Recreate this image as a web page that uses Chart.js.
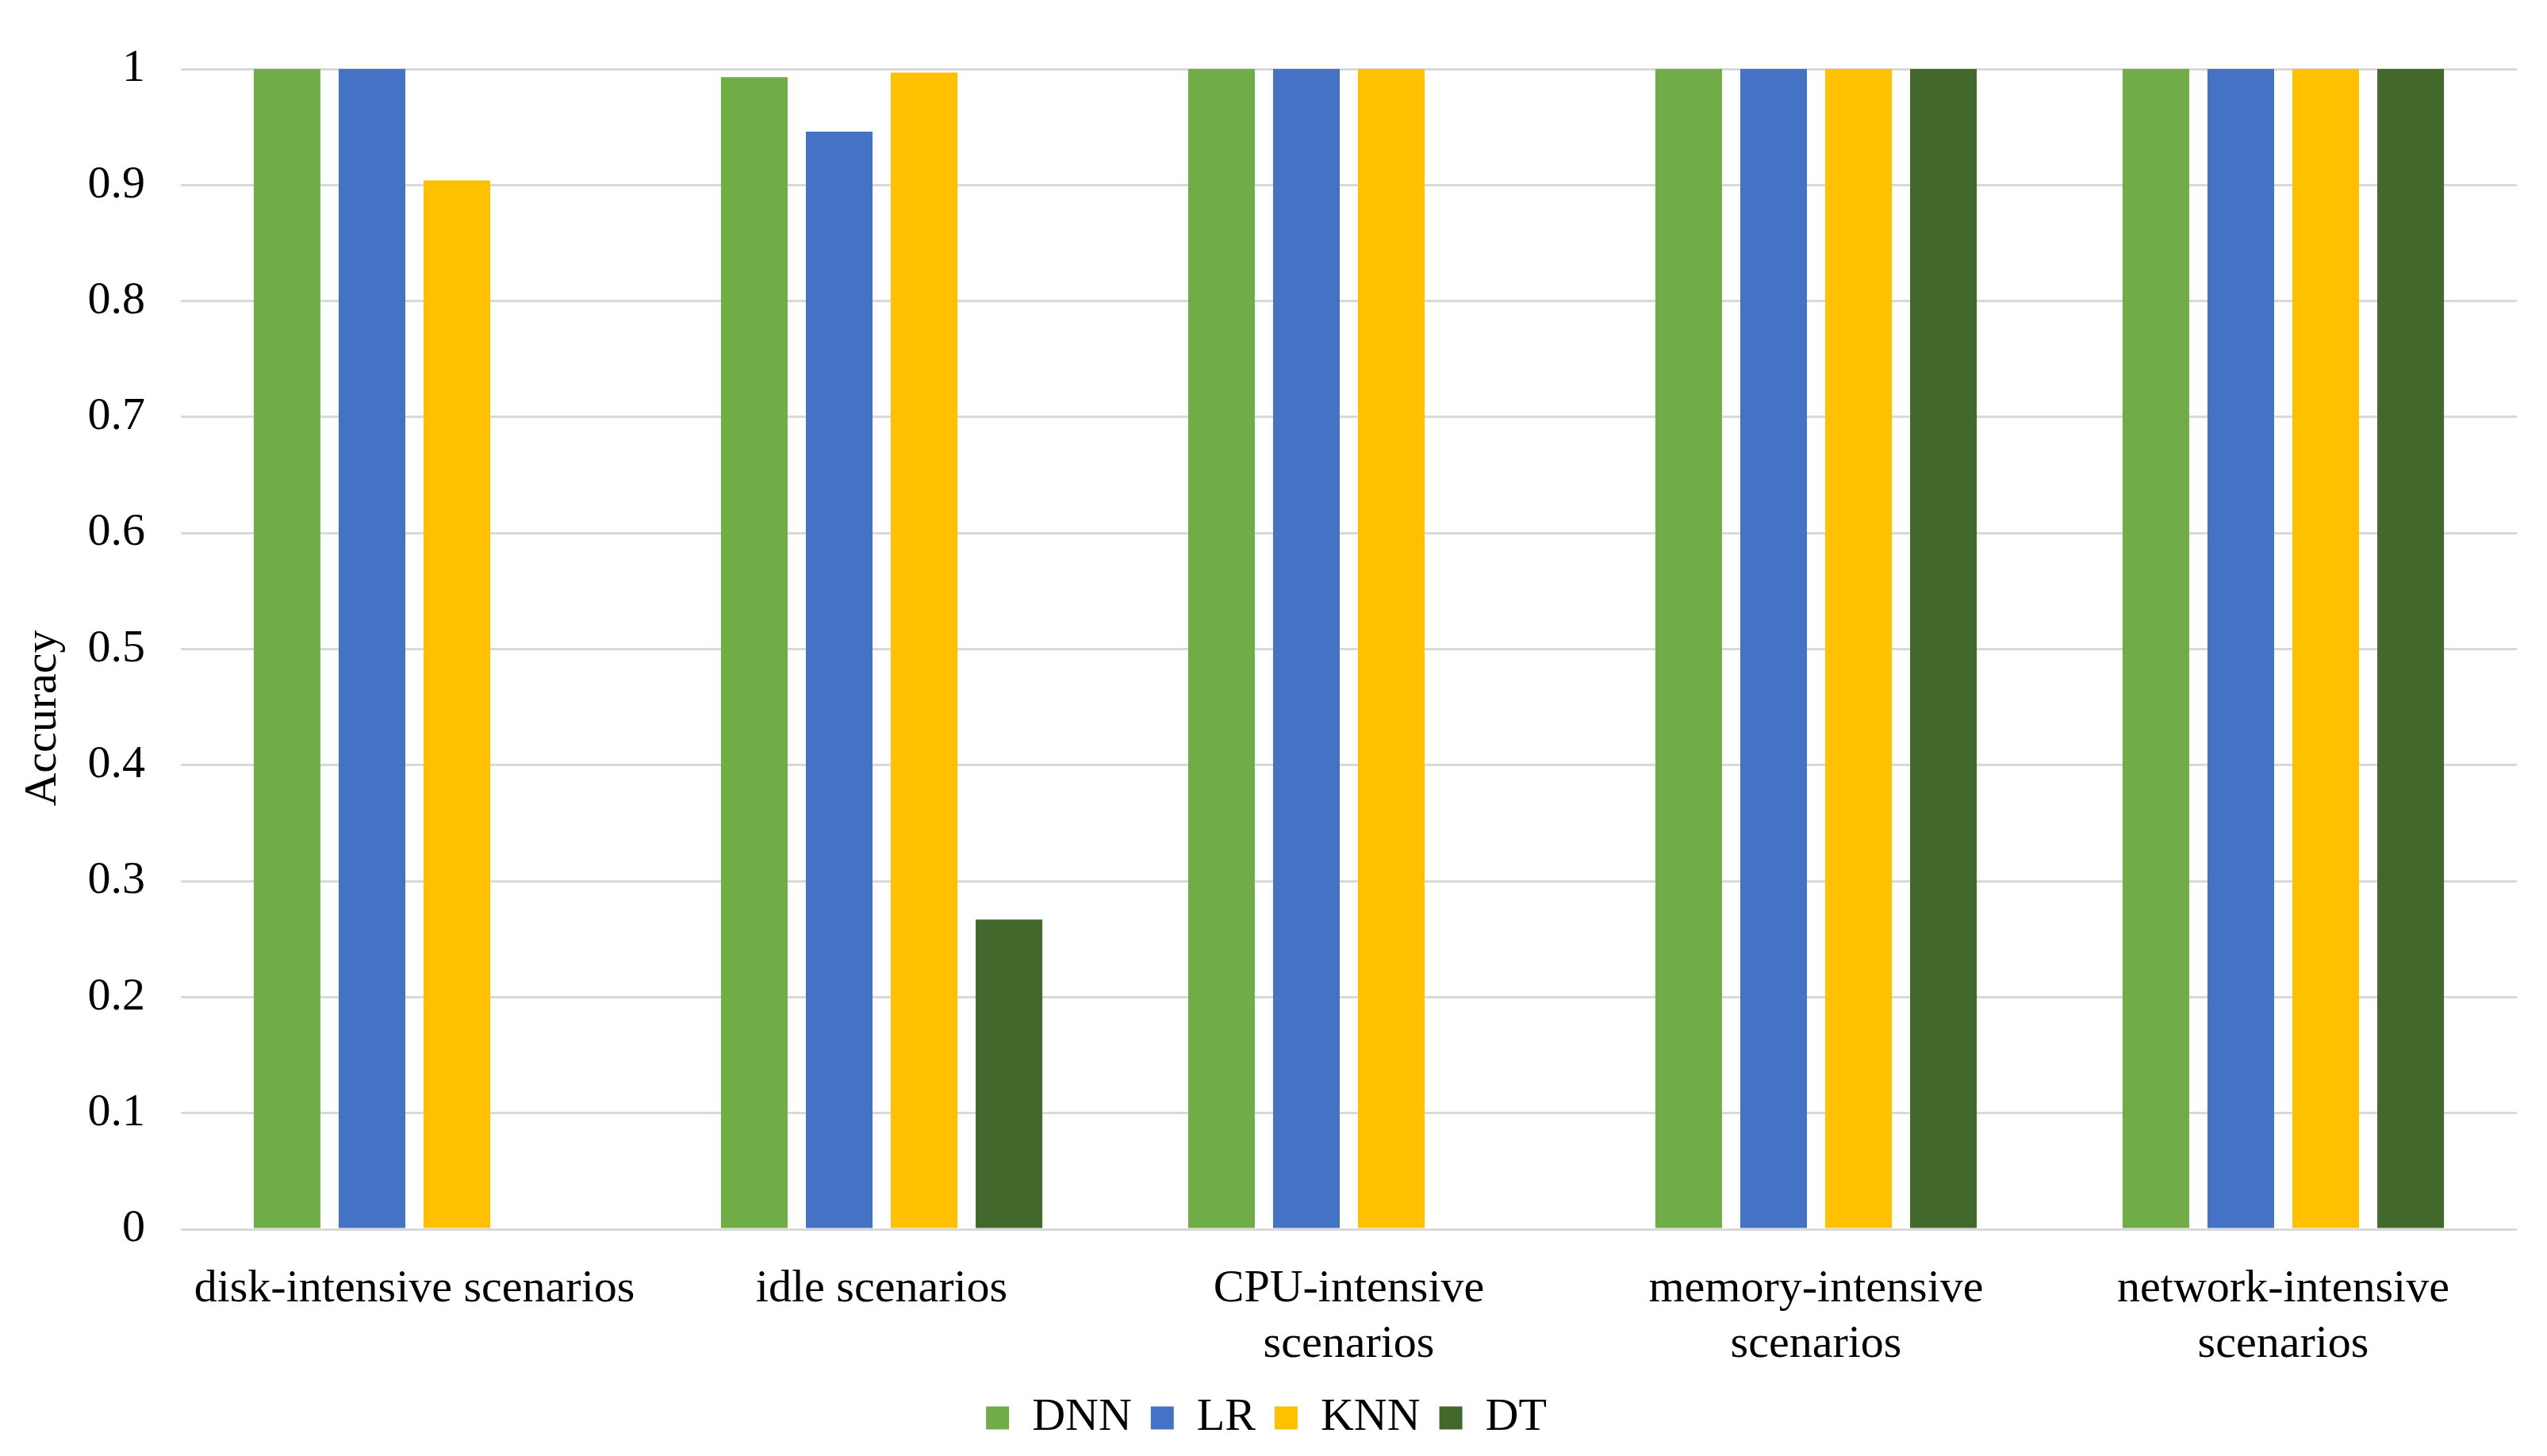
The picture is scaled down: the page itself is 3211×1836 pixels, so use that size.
<!DOCTYPE html>
<html>
<head>
<meta charset="utf-8">
<script src="https://cdn.jsdelivr.net/npm/chart.js@4"></script>
<style>
  html, body { margin: 0; padding: 0; background: #fff; }
  #wrap { width: 3211px; height: 1836px; }
</style>
</head>
<body>
<div id="wrap"><canvas id="accChart" width="3211" height="1836"></canvas></div>
<script>
const scenarios = [
  'disk-intensive scenarios',
  'idle scenarios',
  ['CPU-intensive', 'scenarios'],
  ['memory-intensive', 'scenarios'],
  ['network-intensive', 'scenarios']
];

const dnnValues = [1, 0.993, 1, 1, 1];
const lrValues = [1, 0.946, 1, 1, 1];
const knnValues = [0.904, 0.997, 1, 1, 1];
const dtValues = [0, 0.267, 0, 1, 1];

const seriesNames = ['DNN', 'LR', 'KNN', 'DT'];
const seriesColors = ['#70ad47', '#4472c4', '#ffc000', '#43682b'];

const serif = 'Liberation Serif, Times New Roman, serif';

// trailing no-break spaces push the axis title down a bit, like the original
const yTitle = 'Accuracy' + '\u00a0'.repeat(12);

const chart = new Chart(document.getElementById('accChart'), {
  type: 'bar',
  data: {
    labels: scenarios,
    datasets: [dnnValues, lrValues, knnValues, dtValues].map((vals, i) => ({
      label: seriesNames[i],
      data: vals,
      backgroundColor: seriesColors[i],
      borderWidth: 0,
      categoryPercentage: 0.727,
      barPercentage: 0.785
    }))
  },
  options: {
    responsive: false,
    devicePixelRatio: 1,
    animation: false,
    layout: { padding: { top: 87, left: 20, right: 38, bottom: 9 } },
    plugins: {
      tooltip: { enabled: false },
      legend: {
        position: 'bottom',
        labels: {
          boxWidth: 29,
          boxHeight: 29,
          padding: 24,
          color: '#000',
          font: { family: serif, size: 58 }
        }
      }
    },
    scales: {
      x: {
        grid: { display: false },
        border: { display: false },
        ticks: {
          color: '#000',
          padding: 33,
          maxRotation: 0,
          autoSkip: false,
          font: { family: serif, size: 58 }
        },
        afterFit: scale => { scale.height = 185; }
      },
      y: {
        min: 0,
        max: 1,
        grid: { color: '#d9d9d9', lineWidth: 3, drawTicks: false },
        border: { display: false },
        ticks: {
          stepSize: 0.1,
          color: '#000',
          padding: 45,
          font: { family: serif, size: 58 },
          callback: v => String(Number(v.toFixed(1)))
        },
        title: {
          display: true,
          text: yTitle,
          color: '#000',
          padding: 0,
          font: { family: serif, size: 58 }
        },
        afterFit: scale => { scale.width = 208; }
      }
    }
  }
});
</script>
</body>
</html>
